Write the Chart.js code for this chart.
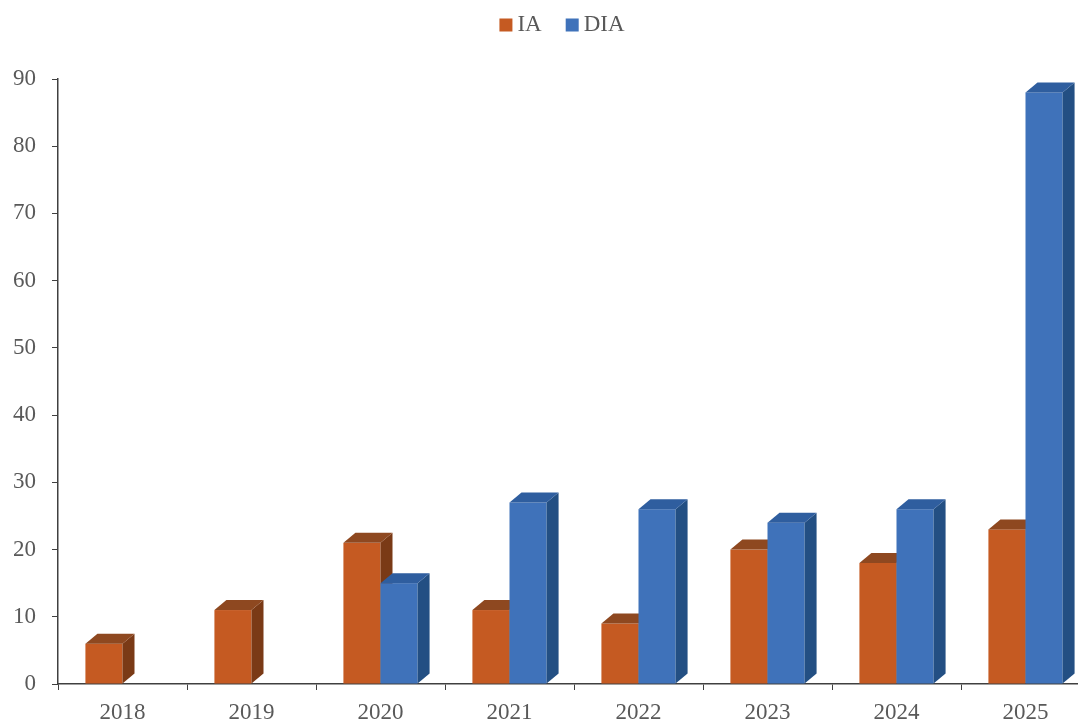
<!DOCTYPE html>
<html lang="es">
<head>
<meta charset="UTF-8">
<title>IA / DIA</title>
<script src="https://cdn.jsdelivr.net/npm/chart.js"></script>
<style>
    html, body { margin: 0; padding: 0; background: #fff; overflow: hidden; }
    .caja { position: absolute; left: 0; top: 0; width: 1090px; height: 722px; }
</style>
</head>
<body>
<div class="caja">
    <canvas id="grafico"></canvas>
</div>
<script>
    const anios = ['2018', '2019', '2020', '2021', '2022', '2023', '2024', '2025'];
    const valoresIA = [6, 11, 21, 11, 9, 20, 18, 23];
    const valoresDIA = [0, 0, 15, 27, 26, 24, 26, 88];

    const FUENTE = "'Liberation Serif', 'Times New Roman', serif";
    const GRIS = '#595959';

    // colores de cada serie: frente, lado, tapa
    const caras = [
        { frente: '#C55A22', lado: '#7A3A16', tapa: '#8E4820' },
        { frente: '#3F72BA', lado: '#234F83', tapa: '#2F5E9F' }
    ];

    const PROF_X = 12;
    const PROF_Y = 10;

    // dibuja las barras con efecto 3D, categoria por categoria
    const barras3d = {
        id: 'barras3d',
        beforeDatasetsDraw(chart) {
            const ctx = chart.ctx;
            const metas = chart.data.datasets.map((d, i) => chart.getDatasetMeta(i));
            ctx.save();
            for (let i = 0; i < anios.length; i++) {
                metas.forEach((meta, d) => {
                    const bar = meta.data[i];
                    const valor = chart.data.datasets[d].data[i];
                    if (!bar || !valor) return;
                    const izq = bar.x - bar.width / 2;
                    const der = bar.x + bar.width / 2;
                    const arriba = bar.y;
                    const base = bar.base;
                    const c = caras[d];

                    ctx.fillStyle = c.frente;
                    ctx.fillRect(izq, arriba, der - izq, base - arriba);

                    ctx.fillStyle = c.lado;
                    ctx.beginPath();
                    ctx.moveTo(der, base);
                    ctx.lineTo(der + PROF_X, base - PROF_Y);
                    ctx.lineTo(der + PROF_X, arriba - PROF_Y);
                    ctx.lineTo(der, arriba);
                    ctx.closePath();
                    ctx.fill();

                    ctx.fillStyle = c.tapa;
                    ctx.beginPath();
                    ctx.moveTo(izq, arriba);
                    ctx.lineTo(izq + PROF_X, arriba - PROF_Y);
                    ctx.lineTo(der + PROF_X, arriba - PROF_Y);
                    ctx.lineTo(der, arriba);
                    ctx.closePath();
                    ctx.fill();
                });
            }
            ctx.restore();
            return false;
        }
    };

    // leyenda arriba, centrada
    const leyenda = {
        id: 'leyenda',
        afterDraw(chart) {
            const ctx = chart.ctx;
            ctx.save();
            ctx.font = '23px ' + FUENTE;
            ctx.textBaseline = 'middle';
            const caja = 13, hueco = 5, entre = 24;
            const items = chart.data.datasets.map((d, i) => ({ texto: d.label, color: caras[i].frente }));
            let total = 0;
            items.forEach((it, i) => {
                total += caja + hueco + ctx.measureText(it.texto).width;
                if (i < items.length - 1) total += entre;
            });
            let x = 562 - total / 2;
            const y = 25;
            items.forEach(it => {
                ctx.fillStyle = it.color;
                ctx.fillRect(x, y - caja / 2, caja, caja);
                x += caja + hueco;
                ctx.fillStyle = GRIS;
                ctx.fillText(it.texto, x, y);
                x += ctx.measureText(it.texto).width + entre;
            });
            ctx.restore();
        }
    };

    const ctx = document.getElementById('grafico');

    new Chart(ctx, {
        type: 'bar',
        data: {
            labels: anios,
            datasets: [
                { label: 'IA', data: valoresIA, backgroundColor: caras[0].frente },
                { label: 'DIA', data: valoresDIA, backgroundColor: caras[1].frente }
            ]
        },
        options: {
            responsive: true,
            maintainAspectRatio: false,
            animation: false,
            barPercentage: 1,
            categoryPercentage: 0.575,
            layout: {
                padding: { top: 79, right: 0, left: 0, bottom: 0 }
            },
            plugins: {
                legend: { display: false },
                tooltip: { enabled: false }
            },
            scales: {
                x: {
                    afterFit(scale) { scale.height = 38; },
                    grid: {
                        offset: true,
                        drawOnChartArea: false,
                        drawTicks: true,
                        tickLength: 6,
                        color: '#404040'
                    },
                    border: { color: '#404040', width: 1.5 },
                    ticks: {
                        color: GRIS,
                        font: { family: FUENTE, size: 23 },
                        padding: 9,
                        maxRotation: 0
                    }
                },
                y: {
                    min: 0,
                    max: 90,
                    afterFit(scale) { scale.width = 58; },
                    grid: {
                        drawOnChartArea: false,
                        drawTicks: true,
                        tickLength: 6,
                        color: '#404040'
                    },
                    border: { color: '#404040', width: 1.5 },
                    ticks: {
                        stepSize: 10,
                        color: GRIS,
                        font: { family: FUENTE, size: 23 },
                        padding: 16
                    }
                }
            }
        },
        plugins: [barras3d, leyenda]
    });
</script>
</body>
</html>
